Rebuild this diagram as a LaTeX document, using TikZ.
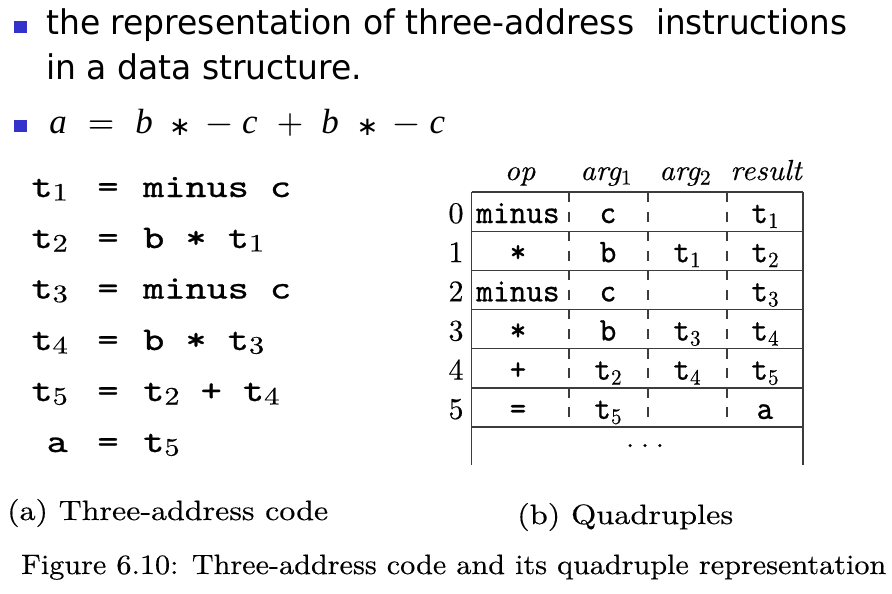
\documentclass[tikz,border=0pt]{standalone}
\usepackage{fontspec}
\usepackage{graphicx}
\setmainfont{lmroman10-regular}[Extension=.otf, ItalicFont=lmroman10-italic, BoldFont=lmroman10-bold, FakeBold=0.3]
\setmonofont{lmmono10-regular}[Extension=.otf, FakeBold=0.7]
\newfontfamily\tahoma{DejaVu Sans}
\newfontfamily\timesf{Liberation Serif}
\definecolor{bulletblue}{RGB}{51,51,204}
\definecolor{rulegray}{RGB}{60,60,60}
\newcommand{\cs}[1]{\raisebox{-3.5pt}{\fontsize{25}{25}\selectfont\rmfamily #1}}
\newcommand{\tsub}[1]{\raisebox{-5pt}{\fontsize{22}{22}\selectfont\rmfamily #1}}
\newcommand{\hsub}[1]{\raisebox{-4.5pt}{\fontsize{21}{21}\selectfont\upshape #1}}
\newcommand{\fitw}[2]{\resizebox{#1}{\height}{#2}}
\newcommand{\cx}[1]{\scalebox{1.22}[1]{#1}}
\newcommand{\tx}[1]{\scalebox{0.96}[1]{#1}}
\newcommand{\hx}[1]{\scalebox{1.04}[1]{#1}}
\tikzset{
  bulletbox/.style={fill=bulletblue, minimum width=13pt, minimum height=12pt, inner sep=0pt, draw=none},
  titletext/.style={anchor=base west, inner sep=0pt, font=\fontsize{34}{34}\selectfont\tahoma},
  mletter/.style={anchor=base, inner sep=0pt, font=\fontsize{35}{35}\selectfont\timesf\itshape},
  mop/.style={anchor=base, inner sep=0pt, font=\fontsize{34}{34}\selectfont\rmfamily},
  mstar/.style={anchor=center, inner sep=0pt, font=\fontsize{26}{26}\selectfont\tahoma},
  codecell/.style={inner sep=0pt, font=\fontsize{33}{33}\selectfont\ttfamily},
  cellt/.style={anchor=base, inner sep=0pt, font=\fontsize{33}{33}\selectfont\ttfamily},
  rownum/.style={anchor=base, inner sep=0pt, font=\fontsize{30}{30}\selectfont\rmfamily},
  headt/.style={anchor=base, inner sep=0pt, font=\fontsize{29}{29}\selectfont\itshape},
  captext/.style={anchor=base west, inner sep=0pt, font=\fontsize{28}{28}\selectfont\rmfamily},
  tablerule/.style={draw=rulegray, line width=1.3pt},
  coldash/.style={draw=rulegray, line width=1.2pt, dash pattern=on 10pt off 9.58pt}
}
\begin{document}
\begin{tikzpicture}[x=1pt,y=-1pt]
\useasboundingbox (0,0) rectangle (892,594);
\fill[white] (0,0) rectangle (892,594);
% bullets and title
\node[bulletbox] (bul1) at (20,27.5) {};
\node[bulletbox] (bul2) at (20,125.5) {};
\node[titletext] (tla) at (46,35) {\fitw{588pt}{the representation of three-address}};
\node[titletext] (tlb) at (656,35) {\fitw{191pt}{instructions}};
\node[titletext] (tlc) at (46,80) {\fitw{316pt}{in a data structure.}};
% expression line
\node[mletter] (ea) at (58,133) {a};
\node[mop] (eeq) at (101,133) {=};
\node[mletter] (eb1) at (144,133) {b};
\node[mstar] (es1) at (180,127) {∗};
\node[mop] (em1) at (219,133) {\textminus};
\node[mletter] (ec1) at (250,133) {c};
\node[mop] (epl) at (290,133) {+};
\node[mletter] (eb2) at (330,133) {b};
\node[mstar] (es2) at (367.5,127) {∗};
\node[mop] (em2) at (406,133) {\textminus};
\node[mletter] (ec2) at (437.5,133) {c};
% three-address code
\foreach \y/\l/\r [count=\i] in {197/{t\cs{1}}/{minus c}, 248/{t\cs{2}}/{b * t\cs{1}}, 298.5/{t\cs{3}}/{minus c}, 350/{t\cs{4}}/{b * t\cs{3}}, 401/{t\cs{5}}/{t\cs{2} + t\cs{4}}, 452/{a}/{t\cs{5}}}{
  \node[codecell, anchor=base east] (cl\i) at (68,\y) {\cx{\l}};
  \node[codecell, anchor=base] (ce\i) at (108,\y) {\cx{=}};
  \node[codecell, anchor=base west] (cr\i) at (143,\y) {\cx{\r}};
}
% quadruple table rules
\coordinate (tl) at (471.7,192);
\coordinate (tr) at (803,192);
\coordinate (bl) at (471.7,465);
\coordinate (br) at (803,465);
\draw[tablerule] (tl) -- (bl);
\draw[tablerule] (tr) -- (br);
\foreach \k in {0,...,6}{
  \draw[tablerule] (471.7,192+39.17*\k) -- (803,192+39.17*\k);
}
\foreach \xx in {569,648,727}{
  \draw[coldash] (\xx,192) -- (\xx,427);
}
% headers
\node[headt] (hop) at (520,180) {\hx{op}};
\node[headt] (ha1) at (606,180) {\hx{arg\hsub{1}}};
\node[headt] (ha2) at (685,180) {\hx{arg\hsub{2}}};
\node[headt] (hres) at (766,180) {\hx{result}};
% rows
\foreach \op/\aa/\ab/\rs [count=\i from 0] in {
  minus/c/{}/{t\tsub{1}},
  */b/{t\tsub{1}}/{t\tsub{2}},
  minus/c/{}/{t\tsub{3}},
  */b/{t\tsub{3}}/{t\tsub{4}},
  +/{t\tsub{2}}/{t\tsub{4}}/{t\tsub{5}},
  =/{t\tsub{5}}/{}/a}{
  \pgfmathsetmacro{\yb}{223+39.17*\i}
  \node[rownum] (n\i) at (456,\yb) {\i};
  \node[cellt] (q\i op) at (518,\yb) {\tx{\op}};
  \node[cellt] (q\i a) at (608,\yb) {\tx{\aa}};
  \node[cellt] (q\i b) at (687,\yb) {\tx{\ab}};
  \node[cellt] (q\i r) at (765,\yb) {\tx{\rs}};
}
\node[rownum, font=\fontsize{28}{28}\selectfont\rmfamily] (dots) at (645,447) {.\hspace{7pt}.\hspace{7pt}.};
% captions
\node[captext] (capa) at (7,520) {\fitw{321pt}{(a) Three-address code}};
\node[captext] (capb) at (517,524) {\fitw{216pt}{(b) Quadruples}};
\node[captext] (capfig) at (21,574) {\fitw{865pt}{Figure 6.10: Three-address code and its quadruple representation}};
\end{tikzpicture}
\end{document}
